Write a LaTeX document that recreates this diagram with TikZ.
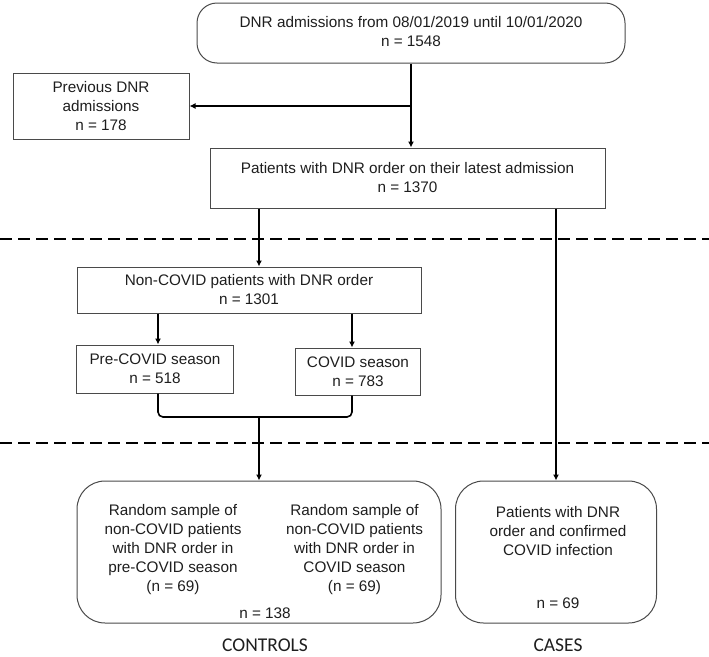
\documentclass[tikz,border=0pt]{standalone}
\usepackage{fontspec}
\setmainfont{Liberation Sans}
\newfontfamily\groupfont{Carlito}
\usepackage{tikz}
\usetikzlibrary{positioning}
\usetikzlibrary{arrows.meta}

\definecolor{boxgray}{HTML}{4A4A4A}
\definecolor{inkgray}{HTML}{1E1E1E}
\newcommand{\boxfont}{\fontsize{15.3}{19}\selectfont}

\tikzset{
  box/.style={draw=boxgray, line width=1pt, align=center, inner sep=0pt,
    text=inkgray, font=\boxfont},
  roundbox/.style={box, rounded corners=20pt},
  bigroundbox/.style={box, rounded corners=28pt},
  boxtext/.style={align=center, inner sep=0pt, text=inkgray, font=\boxfont},
  grouplabel/.style={anchor=base, inner sep=0pt, text=inkgray, font=\groupfont\fontsize{19.5}{22}\selectfont},
  flow/.style={line width=1.6pt, -{Latex[length=6pt,width=6pt]}},
  joint/.style={line width=1.6pt},
  divider/.style={dash pattern=on 12pt off 6pt, line width=1.3pt},
}

\begin{document}
\begin{tikzpicture}[x=1pt,y=-1pt]
  \useasboundingbox (0,0) rectangle (709,656);

  % Dividers
  \draw[divider] (0,239) -- (709,239);
  \draw[divider] (0,443) -- (709,443);

  % Boxes
  \node[roundbox, minimum width=428pt, minimum height=60pt, text depth=4pt] (top) at (411,33)
    {DNR admissions from 08/01/2019 until 10/01/2020\\n = 1548};
  \node[box, minimum width=176pt, minimum height=66pt] (prev) at (101,106)
    {Previous DNR\\admissions\\n = 178};
  \node[box, minimum width=395pt, minimum height=60pt] (latest) at (407.5,178)
    {Patients with DNR order on their latest admission\\n = 1370};
  \node[box, minimum width=344pt, minimum height=46pt] (noncovid) at (249,290)
    {Non-COVID patients with DNR order\\n = 1301};
  \node[box, minimum width=157pt, minimum height=48pt] (pre) at (155,369)
    {Pre-COVID season\\n = 518};
  \node[box, minimum width=125pt, minimum height=47pt] (covid) at (358,371.5)
    {COVID season\\n = 783};
  \node[bigroundbox, minimum width=364pt, minimum height=142pt] (controls) at (259,552) {};
  \node[bigroundbox, minimum width=201pt, minimum height=142pt] (cases) at (556,552) {};

  % Texts in the bottom boxes
  \node[boxtext] (ctrlpre) at (173,550)
    {Random sample of\\non-COVID patients\\with DNR order in\\pre-COVID season\\(n = 69)};
  \node[boxtext] (ctrlcovid) at (354.5,550)
    {Random sample of\\non-COVID patients\\with DNR order in\\COVID season\\(n = 69)};
  \node[boxtext] (ctrltotal) at (265,613) {n = 138};
  \node[boxtext] (casetext) at (558,531)
    {Patients with DNR\\order and confirmed\\COVID infection};
  \node[boxtext] (casetotal) at (558,603) {n = 69};

  % Group labels
  \node[grouplabel] (ctrllabel) at (265,651) {CONTROLS};
  \node[grouplabel] (caselabel) at (558,651) {CASES};

  % Connectors
  \draw[flow] (top.south) -- (top.south |- latest.north);
  \draw[flow] (top.south |- prev.east) -- (prev.east);
  \draw[flow] (latest.south -| controls.north) -- (controls.north |- noncovid.north);
  \draw[flow] (latest.south -| cases.north) -- (cases.north);
  \draw[flow] ([xshift=3pt]noncovid.south -| pre.north) -- ([xshift=3pt]pre.north);
  \draw[flow] ([xshift=-6pt]noncovid.south -| covid.north) -- ([xshift=-6pt]covid.north);
  \coordinate (merge) at (259,417);
  \draw[joint, rounded corners=5pt] ([xshift=3pt]pre.south) |- (merge) -| ([xshift=-6pt]covid.south);
  \draw[flow] (merge) -- (controls.north);
\end{tikzpicture}
\end{document}
